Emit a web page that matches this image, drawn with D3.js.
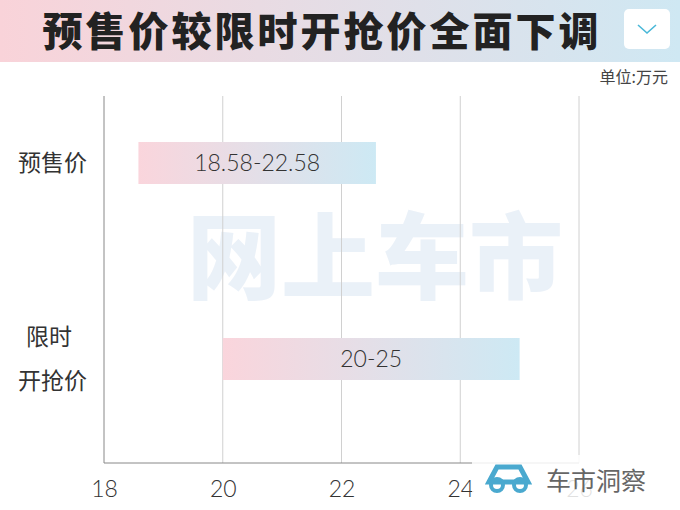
<!DOCTYPE html>
<html><head><meta charset="utf-8">
<script src="https://cdn.jsdelivr.net/npm/d3@7"></script>
<style>body{margin:0;background:#fff}svg{font-family:"Noto Sans CJK SC","Noto Sans",sans-serif}</style>
</head><body><div id="c"></div>
<script>
var title = '预售价较限时开抢价全面下调';
var categories = [['预售价'], ['限时', '开抢价']];
var lows = [18.58, 20];
var highs = [22.58, 25];
var barLabels = ['18.58-22.58', '20-25'];
var ticks = [18, 20, 22, 24, 26];

var W = 680, H = 510;
var svg = d3.select('#c').append('svg').attr('width', W).attr('height', H);
var defs = svg.append('defs');
var tg = defs.append('linearGradient').attr('id', 'tg');
tg.append('stop').attr('offset', '0').attr('stop-color', '#f9d3d9');
tg.append('stop').attr('offset', '1').attr('stop-color', '#cfe8f3');
var bg = defs.append('linearGradient').attr('id', 'bg');
bg.append('stop').attr('offset', '0').attr('stop-color', '#fad5dc');
bg.append('stop').attr('offset', '1').attr('stop-color', '#cde9f4');

svg.append('rect').attr('width', W).attr('height', 62).attr('fill', 'url(#tg)');
svg.append('text').attr('x', 322).attr('y', 46).attr('text-anchor', 'middle')
  .attr('font-size', 40).attr('font-weight', 900).attr('fill', '#222').attr('letter-spacing', 3).text(title);
svg.append('rect').attr('x', 624).attr('y', 9).attr('width', 46).attr('height', 40).attr('rx', 5).attr('fill', '#fff');
svg.append('path').attr('d', 'M638,25 L647,33 L656,25').attr('fill', 'none').attr('stroke', '#4ab8d8').attr('stroke-width', 1.6);
svg.append('text').attr('x', 668).attr('y', 83).attr('text-anchor', 'end').attr('font-size', 16).attr('fill', '#444').text('单位:万元');

var x = d3.scaleLinear().domain([18, 26]).range([104, 579]);
var y = d3.scalePoint().domain([0, 1]).range([163, 359]);
var bh = 42;

// watermark
svg.append('text').attr('x', 375).attr('y', 292).attr('text-anchor', 'middle').attr('font-size', 94)
  .attr('font-weight', 900).attr('fill', '#e6eef7').attr('opacity', 0.8).text('网上车市');

svg.selectAll('.grid').data(ticks.slice(1)).enter().append('line')
  .attr('x1', d => x(d)).attr('x2', d => x(d)).attr('y1', 96).attr('y2', 463)
  .attr('stroke', '#d0d0d0').attr('stroke-width', 1);
svg.append('line').attr('x1', x(18)).attr('x2', x(18)).attr('y1', 96).attr('y2', 463).attr('stroke', '#888');
svg.append('line').attr('x1', x(18)).attr('x2', x(26)).attr('y1', 463).attr('y2', 463).attr('stroke', '#888');

var axis = svg.append('g').attr('transform', 'translate(0,463)')
  .call(d3.axisBottom(x).tickValues(ticks).tickSize(0).tickPadding(18));
axis.select('.domain').remove();
axis.selectAll('text').attr('font-size', 23).attr('fill', '#333').attr('font-family', 'Lato, sans-serif').attr('font-weight', 300);

var bars = svg.selectAll('.bar').data(lows).enter().append('g');
bars.append('rect').attr('x', (d, i) => x(lows[i])).attr('y', (d, i) => y(i) - bh / 2)
  .attr('width', (d, i) => x(highs[i]) - x(lows[i])).attr('height', bh).attr('fill', 'url(#bg)');
bars.append('text').attr('x', (d, i) => (x(lows[i]) + x(highs[i])) / 2).attr('y', (d, i) => y(i) + 8)
  .attr('text-anchor', 'middle').attr('font-size', 23).attr('fill', '#333').attr('font-family', 'Lato, sans-serif').attr('font-weight', 300)
  .text((d, i) => barLabels[i]);

categories.forEach(function (lines, i) {
  var cy = y(i);
  lines.forEach(function (t, j) {
    svg.append('text').attr('x', 18 + (lines.length > 1 && j === 0 ? 8 : 0)).attr('y', cy + 8 + (j - (lines.length - 1) / 2) * 44)
      .attr('font-size', 23).attr('fill', '#333').text(t);
  });
});

// corner logo
var lg = svg.append('g');
lg.append('rect').attr('x', 472).attr('y', 455).attr('width', 205).attr('height', 48).attr('fill', '#fff').attr('opacity', 0.85);
lg.append('path').attr('d', 'M489,482 L497,467 L520,467 L528,482 Z').attr('fill', 'none').attr('stroke', '#4aa9cf').attr('stroke-width', 5);
lg.append('circle').attr('cx', 497).attr('cy', 485).attr('r', 6).attr('fill', 'none').attr('stroke', '#4aa9cf').attr('stroke-width', 4);
lg.append('circle').attr('cx', 520).attr('cy', 485).attr('r', 6).attr('fill', 'none').attr('stroke', '#4aa9cf').attr('stroke-width', 4);
lg.append('text').attr('x', 546).attr('y', 490).attr('font-size', 25).attr('fill', '#666').text('车市洞察');
</script></body></html>
